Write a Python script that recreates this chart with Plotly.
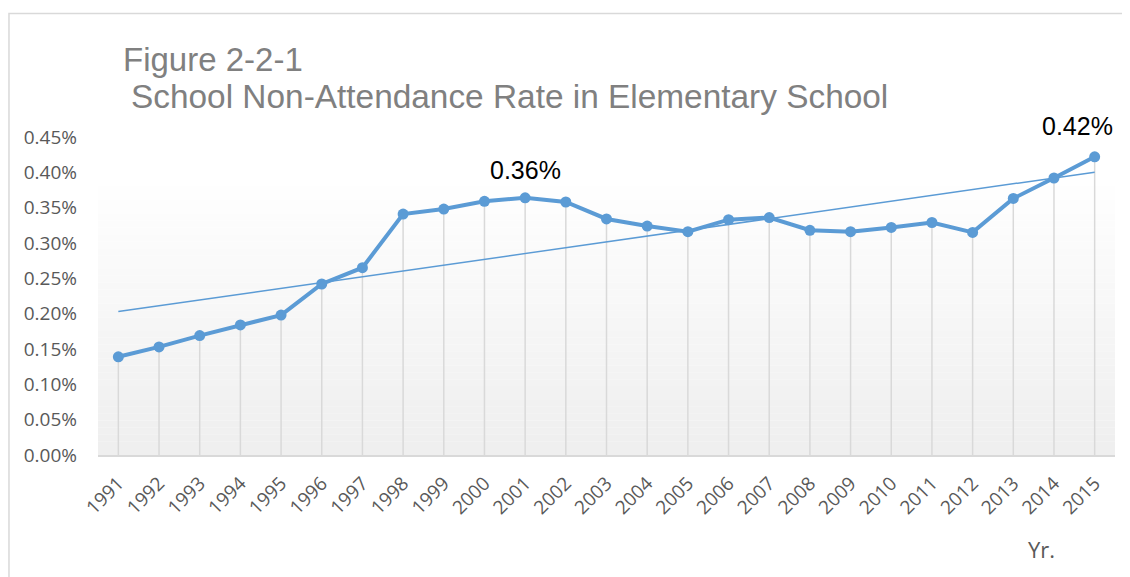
import numpy as np
import plotly.graph_objects as go

# School non-attendance rate, elementary school (fraction of pupils)
years = list(range(1991, 2016))
rates = [
    0.00139, 0.00153, 0.00169, 0.00184, 0.00198, 0.00242, 0.00265, 0.00341,
    0.00348, 0.00359, 0.00364, 0.00358, 0.00334, 0.00324, 0.00316, 0.00333,
    0.00336, 0.00318, 0.00316, 0.00322, 0.00329, 0.00315, 0.00363, 0.00392,
    0.00422,
]
y_ticks = [0, 0.0005, 0.001, 0.0015, 0.002, 0.0025, 0.003, 0.0035, 0.004, 0.0045]
labelled_years = [2001, 2015]

BLUE = "#5b9bd5"
GRID = "#d9d9d9"
OFF = 8  # the page's body margin
W, H = 1130 - OFF, 577 - OFF
# plot area in window pixels
L, R, T, B = 97.6, 1115.4, 137, 455


def px(x):
    return (x - L) / (R - L)


def py(y):
    return (B - y) / (B - T)


# linear trendline, as Excel draws it
slope, intercept = np.polyfit(years, rates, 1)
trend = [slope * yr + intercept for yr in (years[0], years[-1])]

fig = go.Figure()

# drop lines from each point to the axis
fig.add_trace(go.Scatter(
    x=years, y=rates, mode="markers",
    marker=dict(size=1, color="rgba(0,0,0,0)"),
    error_y=dict(type="data", symmetric=False, array=[0] * len(rates),
                 arrayminus=rates, width=0, color=GRID, thickness=1.5),
    hoverinfo="skip", showlegend=False,
))
fig.add_trace(go.Scatter(
    x=[years[0], years[-1]], y=trend, mode="lines",
    line=dict(color=BLUE, width=1.5), hoverinfo="skip", showlegend=False,
))
fig.add_trace(go.Scatter(
    x=years, y=rates, mode="lines+markers",
    line=dict(color=BLUE, width=4), marker=dict(size=11, color=BLUE),
    showlegend=False, cliponaxis=False,
))

# soft gradient fill of the plot area
shapes = []
n = 40
top = 0.0039
for i in range(n):
    c = int(239 + (255 - 239) * i / (n - 1))
    shapes.append(dict(
        type="rect", xref="x domain", yref="y", x0=0, x1=1,
        y0=top * i / n, y1=top * (i + 1) / n, line_width=0,
        fillcolor=f"rgb({c},{c},{c})", layer="below",
    ))
# outer chart border
shapes.append(dict(
    type="rect", xref="paper", yref="paper",
    x0=px(8.5), x1=px(1140), y0=py(13.5), y1=py(590),
    line=dict(color=GRID, width=1.5), fillcolor="rgba(0,0,0,0)", layer="below",
))

annotations = [
    dict(text="Figure 2-2-1", xref="paper", yref="paper", x=px(121), y=py(60),
         xanchor="left", yanchor="middle", showarrow=False,
         font=dict(family="Liberation Sans", size=33, color="#808080")),
    dict(text="School Non-Attendance Rate in Elementary School", xref="paper",
         yref="paper", x=px(129), y=py(96.5), xanchor="left", yanchor="middle",
         showarrow=False,
         font=dict(family="Liberation Sans", size=33.4, color="#808080")),
    dict(text="Yr.", xref="paper", yref="paper", x=px(1042), y=py(549),
         xanchor="center", yanchor="middle", showarrow=False,
         font=dict(family="Open Sans", size=22, color="#595959")),
]
label_pos = {2001: (525, 170), 2015: (1078, 126)}
for yr in labelled_years:
    v = rates[years.index(yr)]
    lx, ly = label_pos[yr]
    annotations.append(dict(
        text=f"{v * 100:.2f}%", xref="paper", yref="paper", x=px(lx), y=py(ly),
        xanchor="center", yanchor="middle", showarrow=False,
        font=dict(family="Liberation Sans", size=25, color="#000000"),
    ))

fig.update_layout(
    width=W, height=H,
    margin=dict(l=L - OFF, r=1130 - R, t=T - OFF, b=577 - B),
    paper_bgcolor="white", plot_bgcolor="white",
    shapes=shapes, annotations=annotations,
)
fig.update_xaxes(
    range=[1990.5, 2015.5], tickvals=years, ticktext=[str(y) for y in years],
    tickangle=-45, showgrid=False, zeroline=False, showline=True,
    linecolor=GRID, linewidth=1.5, ticks="", ticklabelstandoff=8,
    tickfont=dict(family="Open Sans", size=19, color="#595959"),
)
fig.update_yaxes(
    range=[0, 0.0045], tickvals=y_ticks, tickformat=".2%",
    showgrid=False, zeroline=False, showline=False, ticks="",
    ticklabelstandoff=20,
    tickfont=dict(family="Open Sans", size=19, color="#595959"),
)

fig.write_html("out.html")
